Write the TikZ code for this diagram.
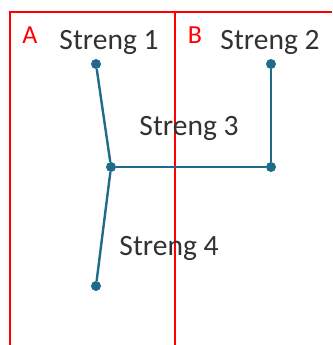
\documentclass[tikz,border=0pt]{standalone}
\usepackage{fontspec}
\setmainfont{Carlito}
\usepackage{xcolor}
\usepackage{tikz}
\usetikzlibrary{positioning}
\definecolor{strengteal}{RGB}{31,108,138}
\definecolor{sonered}{RGB}{255,0,0}
\definecolor{labelgrey}{RGB}{50,50,50}

\begin{document}
\begin{tikzpicture}[x=1pt,y=-1pt,
  zone/.style={draw=sonered,line width=2.2pt},
  streng/.style={draw=strengteal,line width=2.4pt},
  knot/.style={circle,fill=strengteal,inner sep=0pt,minimum size=10pt},
  zonelabel/.style={text=sonered,font=\fontsize{26}{30}\selectfont,anchor=base,inner sep=0pt},
  strenglabel/.style={text=labelgrey,font=\fontsize{29.5}{34}\selectfont,anchor=base,inner sep=0pt}]
\useasboundingbox (0,0) rectangle (332,345);
% zones
\draw[zone] (10,345) |- (332,12);
\draw[zone] (175,12) -- (175,345);
\node[zonelabel] (za) at (30,44) {A};
\node[zonelabel] (zb) at (195,44) {B};
% strings
\node[knot] (s1) at (96,64) {};
\node[knot] (s2) at (271,64) {};
\node[knot] (jn) at (111,167) {};
\node[knot] (s3) at (271,167) {};
\node[knot] (s4) at (96,286) {};
\draw[streng] (s1)--(jn);
\draw[streng] (s2)--(s3);
\draw[streng] (s3)--(jn);
\draw[streng] (jn)--(s4);
\node[strenglabel] (l1) at (109,50) {Streng 1};
\node[strenglabel] (l2) at (270,50) {Streng 2};
\node[strenglabel] (l3) at (189,135) {Streng 3};
\node[strenglabel] (l4) at (169,255) {Streng 4};
\end{tikzpicture}
\end{document}
